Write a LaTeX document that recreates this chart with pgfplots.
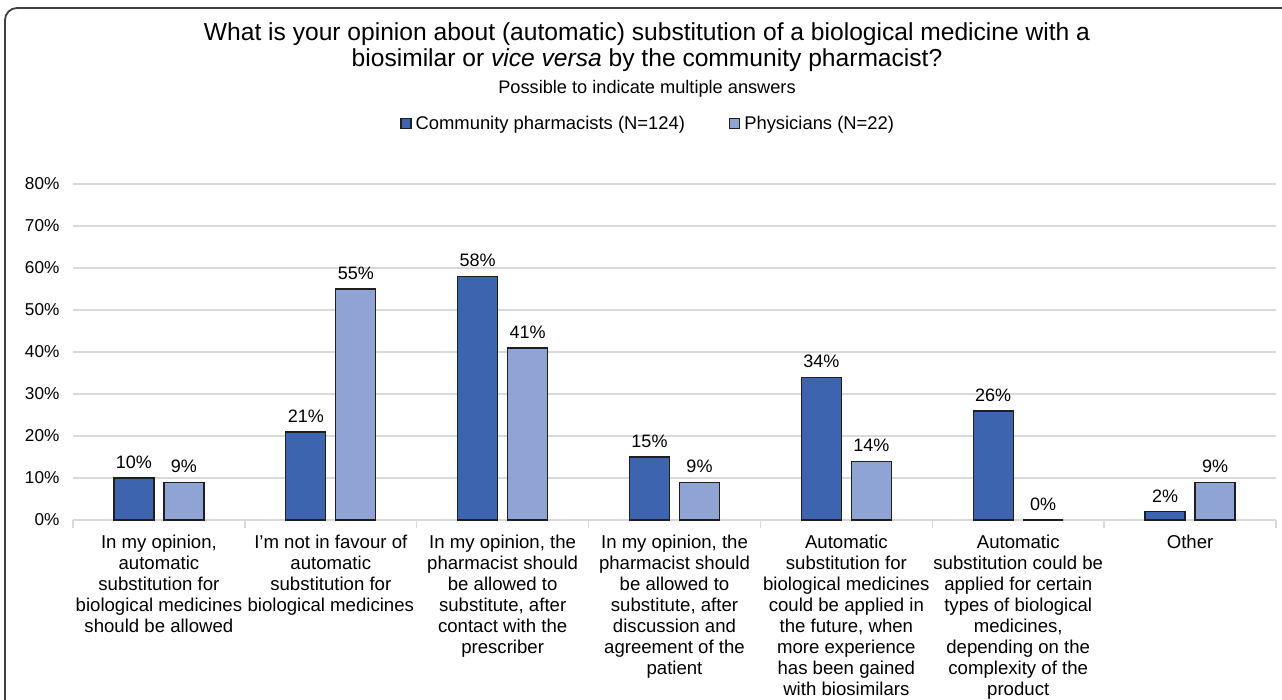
\documentclass[border=0pt]{standalone}
\usepackage{fontspec}
\setmainfont{Liberation Sans}
\usepackage{pgfplots}
\pgfplotsset{compat=1.18}
\definecolor{pharm}{HTML}{3D64AE}
\definecolor{phys}{HTML}{8FA4D5}
\definecolor{gridgray}{HTML}{D9D9D9}
\definecolor{edge}{HTML}{1F1F1F}

\begin{document}
\begin{tikzpicture}
\path[use as bounding box, clip] (0pt,0pt) rectangle (641pt,-350pt);
% outer chart frame (rounded top-left corner)
\draw[line width=0.9pt, black!75, rounded corners=6pt] (2.5pt,-420pt) -- (2.5pt,-4pt) -- (700pt,-4pt);
\node[font=\fontsize{12.3}{13}\selectfont, align=center] at (323.5pt,-23.5pt)
  {What is your opinion about (automatic) substitution of a biological medicine with a\\
   biosimilar or \textit{vice versa} by the community pharmacist?};
\node[font=\fontsize{9.1}{10}\selectfont] at (323.5pt,-44.5pt) {Possible to indicate multiple answers};
\begin{axis}[
  at={(36.5pt,-260pt)}, anchor=south west,
  scale only axis, width=601.5pt, height=168pt,
  ybar=5pt, bar width=20pt,
  xmin=-0.5, xmax=6.5, ymin=0, ymax=80,
  axis lines*=left,
  x axis line style={gridgray, line width=0.75pt},
  y axis line style={draw=none},
  ytick={0,10,...,80},
  ytick style={draw=none},
  ymajorgrids, grid style={gridgray, line width=0.75pt},
  yticklabel={\pgfmathprintnumber{\tick}\%},
  /pgf/number format/assume math mode=true,
  yticklabel style={font=\fontsize{8.6}{10}\selectfont, xshift=1pt},
  xtick={0,...,6},
  major x tick style={draw=none},
  minor xtick={-0.5,0.5,...,6.5},
  minor x tick style={gridgray, line width=0.75pt},
  tick align=outside, minor tick length=4pt,
  xticklabel style={font=\fontsize{9.3}{10.5}\selectfont, align=center, yshift=0.5pt},
  xticklabels={
    {In my opinion,\\automatic\\substitution for\\biological medicines\\should be allowed},
    {I'm not in favour of\\automatic\\substitution for\\biological medicines},
    {In my opinion, the\\pharmacist should\\be allowed to\\substitute, after\\contact with the\\prescriber},
    {In my opinion, the\\pharmacist should\\be allowed to\\substitute, after\\discussion and\\agreement of the\\patient},
    {Automatic\\substitution for\\biological medicines\\could be applied in\\the future, when\\more experience\\has been gained\\with biosimilars},
    {Automatic\\substitution could be\\applied for certain\\types of biological\\medicines,\\depending on the\\complexity of the\\product},
    {Other}},
  nodes near coords={\pgfmathprintnumber{\pgfplotspointmeta}\%},
  nodes near coords style={font=\fontsize{9}{10.5}\selectfont, black, yshift=1pt},
  legend style={at={(0.479,1.179)}, anchor=center, draw=none, fill=none,
    legend columns=2, font=\fontsize{9.2}{10.5}\selectfont,
    /tikz/every even column/.append style={column sep=20pt}},
  legend image code/.code={\draw[#1, line width=0.6pt] (0pt,-2.5pt) rectangle (5pt,2.5pt);},
]
\addplot[fill=pharm, draw=edge, line width=0.7pt] coordinates {
  (0,10) (1,21) (2,58) (3,15) (4,34) (5,26) (6,2)};
\addplot[fill=phys, draw=edge, line width=0.7pt] coordinates {
  (0,9) (1,55) (2,41) (3,9) (4,14) (5,0) (6,9)};
\legend{Community pharmacists (N=124), Physicians (N=22)}
\end{axis}
\end{tikzpicture}
\end{document}
